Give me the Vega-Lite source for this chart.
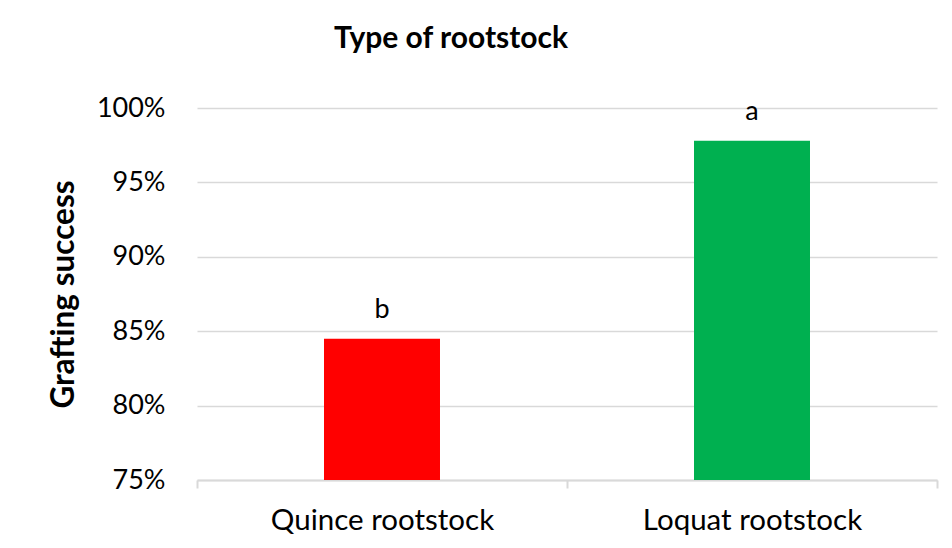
{
  "$schema": "https://vega.github.io/schema/vega-lite/v6.json",
  "width": 740,
  "height": 372,
  "autosize": "none",
  "padding": {"left": 197, "top": 108, "right": 15, "bottom": 68},
  "background": "white",
  "data": {
    "values": [
      {"rootstock": "Quince rootstock", "success": 0.845, "group": "b"},
      {"rootstock": "Loquat rootstock", "success": 0.978, "group": "a"}
    ]
  },
  "title": {
    "text": "Type of rootstock",
    "anchor": "middle",
    "dx": -116,
    "offset": 40,
    "font": "Lato",
    "fontSize": 30,
    "fontWeight": "bold",
    "color": "#000000"
  },
  "config": {
    "view": {"stroke": null},
    "font": "Lato"
  },
  "encoding": {
    "x": {
      "field": "rootstock",
      "type": "nominal",
      "sort": null,
      "scale": {"paddingInner": 0, "paddingOuter": 0},
      "axis": {
        "title": null,
        "labelAngle": 0,
        "labelFontSize": 29.5,
        "labelLimit": 0,
        "labelColor": "#000000",
        "labelPadding": 18,
        "domainColor": "#d9d9d9",
        "domainWidth": 2,
        "tickColor": "#d9d9d9",
        "tickWidth": 2,
        "tickSize": 8,
        "tickBand": "extent",
        "grid": false
      }
    },
    "y": {
      "field": "success",
      "type": "quantitative",
      "scale": {"domain": [0.75, 1.0], "nice": false, "zero": false},
      "axis": {
        "title": "Grafting success",
        "titleFontSize": 31.5,
        "titleFontWeight": "bold",
        "titleColor": "#000000",
        "titlePadding": 16,
        "format": ".0%",
        "values": [0.75, 0.8, 0.85, 0.9, 0.95, 1.0],
        "labelFontSize": 27,
        "labelColor": "#000000",
        "labelPadding": 32,
        "ticks": false,
        "domain": false,
        "grid": true,
        "gridColor": "#d9d9d9",
        "gridWidth": 1.5
      }
    }
  },
  "layer": [
    {
      "mark": {"type": "bar", "width": {"band": 0.3135}},
      "encoding": {
        "y2": {"datum": 0.75},
        "color": {
          "field": "rootstock",
          "type": "nominal",
          "scale": {"domain": ["Quince rootstock", "Loquat rootstock"], "range": ["#FF0000", "#00B050"]},
          "legend": null
        }
      }
    },
    {
      "mark": {"type": "text", "baseline": "alphabetic", "dy": -21, "fontSize": 27, "color": "#000000", "font": "Lato"},
      "encoding": {
        "text": {"field": "group", "type": "nominal"}
      }
    }
  ]
}
